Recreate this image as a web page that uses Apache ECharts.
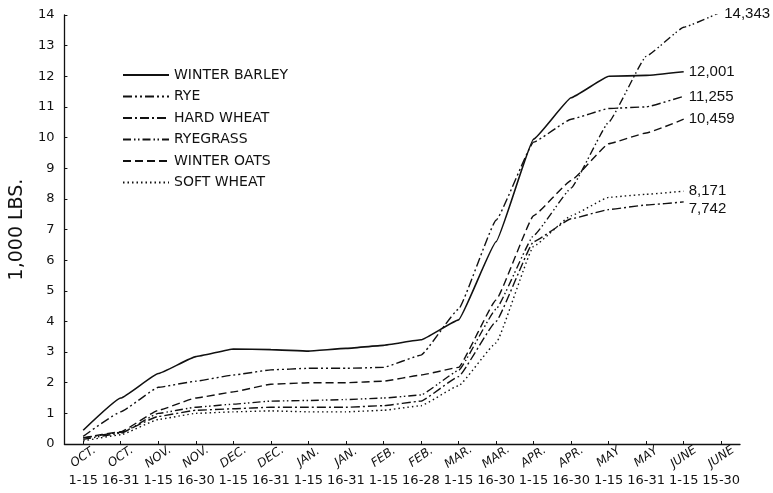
<!DOCTYPE html>
<html>
<head>
<meta charset="utf-8">
<script src="https://cdn.jsdelivr.net/npm/echarts@6/dist/echarts.min.js"></script>
<style>
html,body{margin:0;padding:0;background:#fff;}
#chart{width:773px;height:493px;}
</style>
</head>
<body>
<div id="chart"></div>
<script>
var months = ['OCT.','OCT.','NOV.','NOV.','DEC.','DEC.','JAN.','JAN.','FEB.','FEB.','MAR.','MAR.','APR.','APR.','MAY','MAY','JUNE','JUNE'];
var days = ['1-15','16-31','1-15','16-30','1-15','16-31','1-15','16-31','1-15','16-28','1-15','16-30','1-15','16-30','1-15','16-31','1-15','15-30'];

var winterBarley = [0.45,1.5,2.3,2.85,3.1,3.08,3.03,3.12,3.22,3.4,4.05,6.6,9.95,11.3,12.0,12.03,12.15];
var rye          = [0.25,1.05,1.85,2.05,2.25,2.42,2.47,2.47,2.5,2.9,4.4,7.3,9.85,10.6,10.95,11.0,11.35];
var hardWheat    = [0.2,0.38,0.9,1.1,1.15,1.2,1.2,1.2,1.25,1.4,2.2,4.0,6.6,7.35,7.65,7.8,7.9];
var ryegrass     = [0.15,0.35,1.0,1.2,1.3,1.4,1.42,1.45,1.5,1.6,2.4,4.4,6.8,8.35,10.5,12.65,13.6,14.1];
var winterOats   = [0.2,0.4,1.1,1.5,1.7,1.95,2.0,2.0,2.05,2.25,2.5,4.7,7.45,8.6,9.8,10.15,10.6];
var softWheat    = [0.1,0.3,0.8,1.0,1.05,1.08,1.05,1.05,1.1,1.25,1.9,3.3,6.45,7.45,8.05,8.15,8.25];

var seriesNames = ['WINTER BARLEY','RYE','HARD WHEAT','RYEGRASS','WINTER OATS','SOFT WHEAT'];
var endLabels = ['12,001','11,255','7,742','14,343','10,459','8,171'];
var yTicks = [0,1,2,3,4,5,6,7,8,9,10,11,12,13,14];

var FONT = 'DejaVu Sans';
var NUMFONT = 'Liberation Sans';
var INK = '#111';
var dataSets = [winterBarley, rye, hardWheat, ryegrass, winterOats, softWheat];
var dashes = ['solid', [9,3,2,3,2,3], [9,3,2,3], [8,3,1.5,2.5,1.5,3], [8,4], [1.5,3]];
var widths = [1.6,1.4,1.4,1.4,1.4,1.4];
var labelOffsets = [[0,0],[0,1],[0,7],[-2,2],[0,0],[0,0]];

var chart = echarts.init(document.getElementById('chart'), null, {renderer:'canvas'});
var series = dataSets.map(function(d, i){
  return {
    name: seriesNames[i],
    type: 'line',
    xAxisIndex: 0,
    data: d,
    symbol: 'none',
    smooth: 0.1,
    smoothMonotone: 'x',
    lineStyle: {color: INK, width: widths[i], type: dashes[i]},
    itemStyle: {color: INK},
    endLabel: {
      show: true,
      formatter: endLabels[i],
      distance: 5,
      offset: labelOffsets[i],
      color: INK,
      fontFamily: NUMFONT,
      fontSize: 15
    }
  };
});

chart.setOption({
  animation: false,
  backgroundColor: '#fff',
  grid: {left: 60, top: 15, width: 680, bottom: 49},
  legend: {
    orient: 'vertical',
    left: 117, top: 63,
    itemWidth: 46, itemHeight: 14, itemGap: 7.5,
    data: seriesNames,
    itemStyle: {opacity: 0, borderWidth: 0},
    textStyle: {color: INK, fontFamily: FONT, fontSize: 14}
  },
  xAxis: [{
    type: 'category',
    data: months,
    boundaryGap: true,
    position: 'bottom',
    axisLine: {lineStyle: {color: INK, width: 1.3}},
    axisTick: {alignWithLabel: true, length: 3, lineStyle: {color: INK}},
    axisLabel: {
      interval: 0, rotate: 35, align: 'center', verticalAlign: 'middle', margin: 13,
      color: INK, fontFamily: FONT, fontSize: 12, fontStyle: 'italic'
    },
    splitLine: {show: false}
  },{
    type: 'category',
    data: days,
    boundaryGap: true,
    position: 'bottom',
    axisLine: {show: false},
    axisTick: {show: true, inside: true, alignWithLabel: true, length: 3, lineStyle: {color: INK}},
    axisLabel: {interval: 0, margin: 30, color: INK, fontFamily: FONT, fontSize: 13},
    splitLine: {show: false}
  }],
  yAxis: {
    type: 'value',
    min: yTicks[0], max: yTicks[yTicks.length-1], interval: 1,
    name: '1,000 LBS.',
    nameLocation: 'middle',
    nameRotate: 90,
    nameGap: 32,
    nameTextStyle: {color: INK, fontFamily: FONT, fontSize: 19},
    axisLine: {show: true, lineStyle: {color: INK, width: 1.3}},
    axisTick: {show: true, inside: true, length: 3, lineStyle: {color: INK}},
    axisLabel: {margin: 10, color: INK, fontFamily: FONT, fontSize: 13},
    splitLine: {show: false}
  },
  series: series
});
</script>
</body>
</html>
